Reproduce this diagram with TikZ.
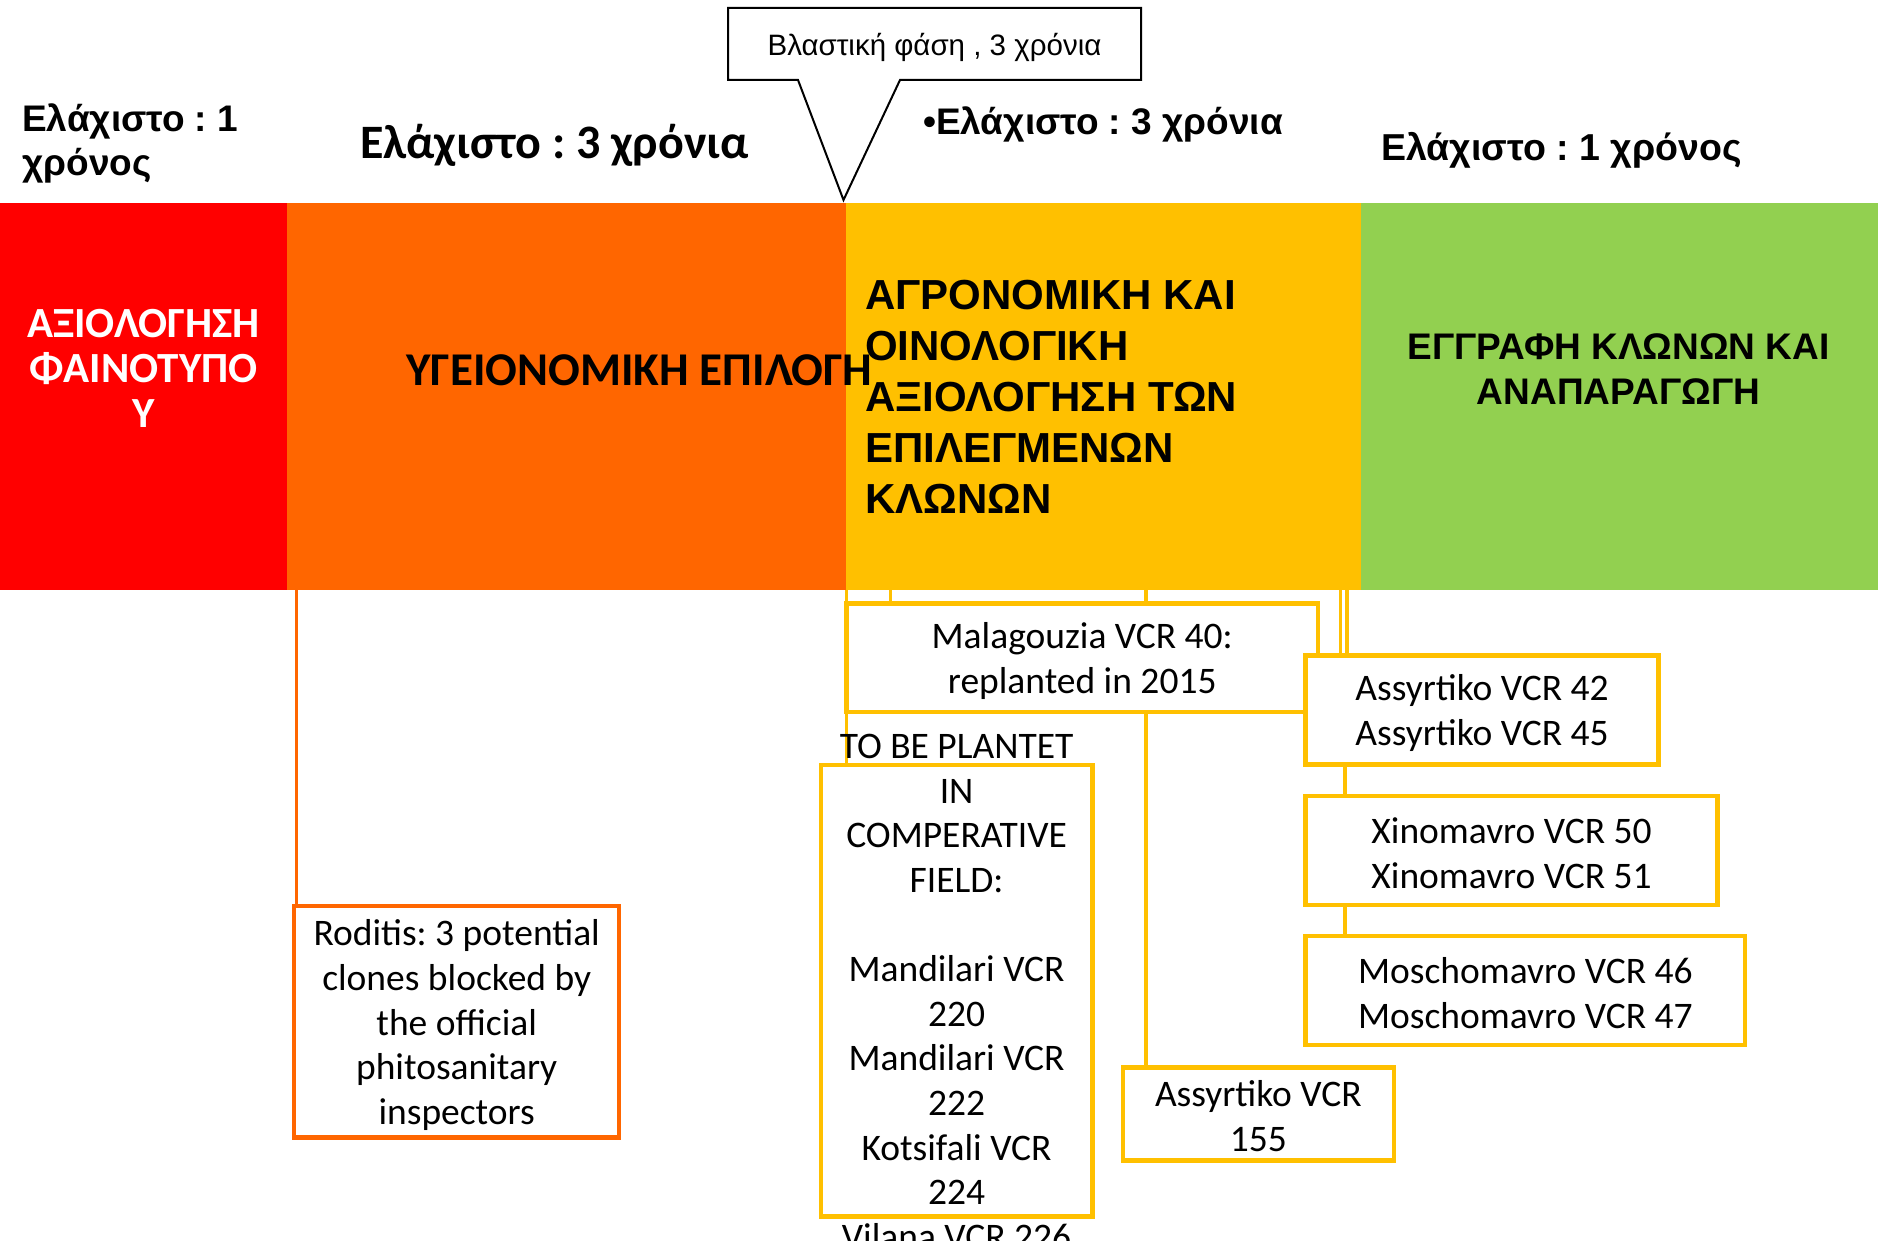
\documentclass[tikz,border=0pt]{standalone}
\usepackage{fontspec}
\setmainfont{Carlito}
\newfontfamily\arialf{Liberation Sans}
\newfontfamily\calif{Carlito}
\usetikzlibrary{backgrounds}
\definecolor{cRed}{HTML}{FF0000}
\definecolor{cOrange}{HTML}{FF6600}
\definecolor{cYellow}{HTML}{FFC000}
\definecolor{cGreen}{HTML}{92D050}
\frenchspacing
\begin{document}
\begin{tikzpicture}[x=1pt,y=-1pt,
  barblock/.style={rectangle, draw=none, inner sep=0pt, outer sep=0pt, anchor=north west, minimum height=387},
  ybox/.style={rectangle, draw=cYellow, line width=4.5pt, fill=white, inner sep=0pt, outer sep=0pt, anchor=north west},
  obox/.style={ybox, draw=cOrange},
  yconn/.style={draw=cYellow, line width=3.5pt},
  oconn/.style={draw=cOrange, line width=3.5pt},
  boxtxt/.style={font=\calif\fontsize{37.5}{44.6}\selectfont, align=center, inner sep=0pt},
  arialhead/.style={font=\arialf\bfseries\fontsize{38}{34}\selectfont, inner sep=0pt, align=left}
]
\useasboundingbox (0,0) rectangle (1878,1241);
\begin{scope}[on background layer]
  \fill[white] (0,0) rectangle (1878,1241);
\end{scope}

% header texts
\node[arialhead, font=\arialf\bfseries\fontsize{37}{44}\selectfont, anchor=base west] (h1) at (22,176) {Ελάχιστο : 1\\χρόνος};
\node[font=\calif\bfseries\fontsize{48}{56}\selectfont, inner sep=0pt, anchor=base west] (h2) at (360,159) {Ελάχιστο : 3 χρόνια};
\node[arialhead, font=\arialf\bfseries\fontsize{37}{34}\selectfont, anchor=base west] (h3) at (923,135) {•Ελάχιστο : 3 χρόνια};
\node[arialhead, font=\arialf\bfseries\fontsize{37.5}{34}\selectfont, anchor=base west] (h4) at (1381,161) {Ελάχιστο : 1 χρόνος};

% callout
\draw[line width=2pt, fill=white, line join=miter] (728,8) -- (1141,8) -- (1141,80) -- (900,80) -- (843.5,200) -- (798,80) -- (728,80) -- cycle;
\node[font=\arialf\fontsize{29.5}{34}\selectfont, inner sep=0pt, anchor=base] (calltxt) at (934.5,56) {Βλαστική φάση , 3 χρόνια};

% bar blocks
\node[barblock, fill=cRed, minimum width=287] (red) at (0,203) {};
\node[barblock, fill=cOrange, minimum width=559] (orange) at (287,203) {};
\node[barblock, fill=cYellow, minimum width=515] (yellow) at (846,203) {};
\node[barblock, fill=cGreen, minimum width=517] (green) at (1361,203) {};

\node[font=\calif\bfseries\fontsize{43}{45}\selectfont, text=white, align=center, inner sep=0pt] (redtxt) at (143.5,368) {ΑΞΙΟΛΟΓΗΣΗ\\ΦΑΙΝΟΤΥΠΟ\\Υ};
\node[font=\calif\bfseries\fontsize{47}{50}\selectfont, inner sep=0pt] (orangetxt) at (639.5,370) {ΥΓΕΙΟΝΟΜΙΚΗ ΕΠΙΛΟΓΗ};
\node[font=\arialf\bfseries\fontsize{42}{51}\selectfont, align=left, inner sep=0pt, anchor=west] (yellowtxt) at (865,397) {ΑΓΡΟΝΟΜΙΚΗ ΚΑΙ\\ΟΙΝΟΛΟΓΙΚΗ\\ΑΞΙΟΛΟΓΗΣΗ ΤΩΝ\\ΕΠΙΛΕΓΜΕΝΩΝ\\ΚΛΩΝΩΝ};
\node[font=\arialf\bfseries\fontsize{37}{45}\selectfont, align=center, inner sep=0pt] (greentxt) at (1618.5,369) {ΕΓΓΡΑΦΗ ΚΛΩΝΩΝ ΚΑΙ\\ΑΝΑΠΑΡΑΓΩΓΗ};

% boxes
\node[obox, minimum width=325, minimum height=231.2] (roditis) at (294.2,906.2) {};
\node[ybox, minimum width=271.7, minimum height=451.3] (mandi) at (820.8,765.2) {};
\node[ybox, minimum width=471.5, minimum height=108.5] (malag) at (846.5,603.5) {};
\node[ybox, minimum width=352.6, minimum height=109] (a42) at (1305.7,655.5) {};
\node[ybox, minimum width=411.8, minimum height=109.2] (xino) at (1305.7,795.8) {};
\node[ybox, minimum width=439.3, minimum height=109.2] (mosch) at (1305.7,935.8) {};
\node[ybox, minimum width=271, minimum height=93] (a155) at (1122.8,1067.5) {};

% box texts
\node[boxtxt] (roditistxt) at (456.7,1025) {Roditis: 3 potential\\clones blocked by\\the official\\phitosanitary\\inspectors};
\node[boxtxt] (manditxt) at (956.6,992) {TO BE PLANTET\\IN\\COMPERATIVE\\FIELD:\\\mbox{}\\Mandilari VCR\\220\\Mandilari VCR\\222\\Kotsifali VCR\\224\\Vilana VCR 226};
\node[boxtxt] (malagtxt) at (malag.center) [yshift=-3pt] {Malagouzia VCR 40:\\replanted in 2015};
\node[boxtxt] (a42txt) at (a42.center) [yshift=-3pt] {Assyrtiko VCR 42\\Assyrtiko VCR 45};
\node[boxtxt] (xinotxt) at (xino.center) [yshift=-3pt] {Xinomavro VCR 50\\Xinomavro VCR 51};
\node[boxtxt] (moschtxt) at (mosch.center) [yshift=-3pt] {Moschomavro VCR 46\\Moschomavro VCR 47};
\node[boxtxt] (a155txt) at (a155.center) [yshift=-2pt] {Assyrtiko VCR\\155};

% connectors (behind boxes)
\coordinate (c1) at ([xshift=44pt]malag.north west);
\coordinate (c2) at ([xshift=23.2pt]a155.north west);
\coordinate (c3) at ([xshift=34.8pt]a42.north west);
\coordinate (c4) at ([xshift=41.3pt]a42.north west);
\coordinate (c5) at ([xshift=39.3pt]a42.south west);
\coordinate (c6) at ([xshift=2.5pt]roditis.north west);
\begin{scope}[on background layer]
  \draw[yconn] (yellow.south -| malag.north west) -- (mandi.north -| malag.north west);
  \draw[yconn] (c1) -- (c1 |- yellow.south);
  \draw[yconn] (c2) -- (c2 |- yellow.south);
  \draw[yconn] (c3) -- (c3 |- yellow.south);
  \draw[yconn] (c4) -- (c4 |- yellow.south);
  \draw[yconn] (c5) -- (c5 |- xino.north);
  \draw[yconn] (c5 |- xino.south) -- (c5 |- mosch.north);
  \draw[oconn] (c6) -- (c6 |- orange.south);
\end{scope}
\end{tikzpicture}
\end{document}
